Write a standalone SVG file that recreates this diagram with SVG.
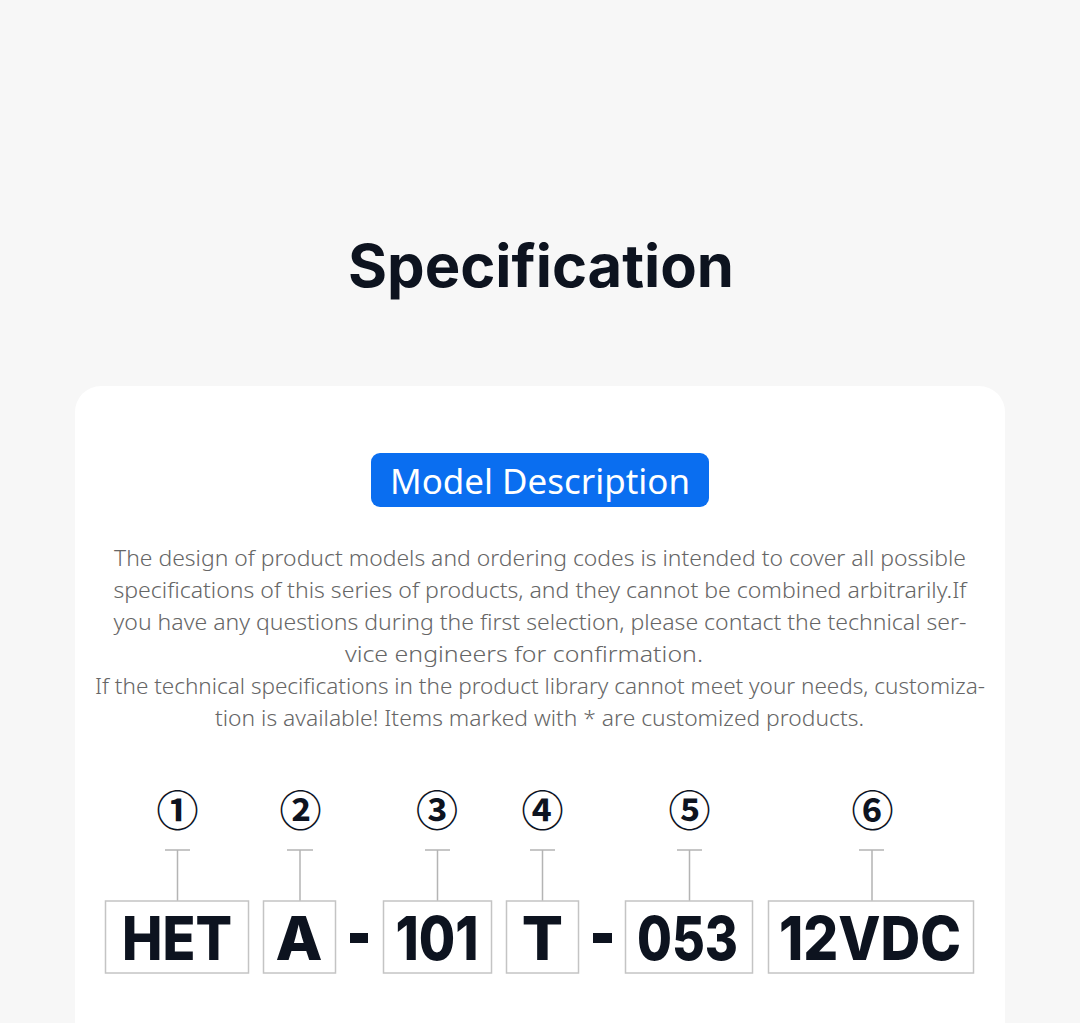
<svg xmlns="http://www.w3.org/2000/svg" width="1080" height="1023" viewBox="0 0 1080 1023">
<style>
.title{font-family:Inter,"Noto Sans","Liberation Sans",sans-serif;font-weight:700;font-size:59px;fill:#0d131f;text-anchor:middle}
.btn{font-family:"Noto Sans","Liberation Sans",sans-serif;font-size:34px;fill:#ffffff;text-anchor:middle}
.para{font-family:"Noto Sans","Open Sans","Liberation Sans",sans-serif;font-weight:300;font-size:21px;fill:#666666;text-anchor:middle}
.box{fill:#ffffff;stroke:#c4c4c4;stroke-width:1.5}
.code{font-family:Inter,"Noto Sans","Liberation Sans",sans-serif;font-weight:800;font-size:61px;fill:#0d131f;text-anchor:middle}
.num{font-family:"Noto Sans CJK SC","DejaVu Sans",sans-serif;font-weight:700;font-size:42px;fill:#0d131f;text-anchor:middle;dominant-baseline:central}
.conn{stroke:#b4b4b4;stroke-width:1.5;fill:none}
</style>
<rect x="0" y="0" width="1080" height="1023" fill="#f7f7f7"/>
<rect x="75" y="386" width="930" height="680" rx="26" fill="#ffffff"/>
<text class="title" x="541" y="287" textLength="386" lengthAdjust="spacingAndGlyphs">Specification</text>
<g id="button">
<rect x="371" y="453" width="338" height="54" rx="9" fill="#0a6ef0"/>
<text class="btn" x="540" y="494" textLength="300" lengthAdjust="spacingAndGlyphs">Model Description</text>
</g>
<g id="description">
<text class="para" x="540" y="566" textLength="852" lengthAdjust="spacingAndGlyphs">The design of product models and ordering codes is intended to cover all possible</text>
<text class="para" x="540" y="598" textLength="853" lengthAdjust="spacingAndGlyphs">specifications of this series of products, and they cannot be combined arbitrarily.If</text>
<text class="para" x="540" y="630" textLength="853" lengthAdjust="spacingAndGlyphs">you have any questions during the first selection, please contact the technical ser-</text>
<text class="para" x="524" y="662" textLength="358" lengthAdjust="spacingAndGlyphs">vice engineers for confirmation.</text>
<text class="para" x="540" y="694" textLength="890" lengthAdjust="spacingAndGlyphs">If the technical specifications in the product library cannot meet your needs, customiza-</text>
<text class="para" x="539.5" y="726" textLength="649" lengthAdjust="spacingAndGlyphs">tion is available! Items marked with * are customized products.</text>
</g>
<g id="connectors">
<path class="conn" d="M165 850H190M177.5 850V901"/>
<path class="conn" d="M287 850H313M300 850V901"/>
<path class="conn" d="M425 850H450M437.5 850V901"/>
<path class="conn" d="M530 850H555M542.5 850V901"/>
<path class="conn" d="M677 850H702M689.5 850V901"/>
<path class="conn" d="M859 850H884M872 850V901"/>
</g>
<g id="seg1">
<text class="num" x="177.5" y="807">①</text>
<rect class="box" x="105.5" y="901" width="143" height="72"/>
<text class="code" x="177" y="960" textLength="110" lengthAdjust="spacingAndGlyphs">HET</text>
</g>
<g id="seg2">
<text class="num" x="300.5" y="807">②</text>
<rect class="box" x="263.5" y="901" width="72" height="72"/>
<text class="code" x="299" y="960">A</text>
</g>
<g id="dash1"><rect x="350" y="933" width="18" height="10" fill="#0d131f"/></g>
<g id="seg3">
<text class="num" x="437" y="807">③</text>
<rect class="box" x="383.5" y="901" width="108" height="72"/>
<text class="code" x="437" y="960" textLength="83" lengthAdjust="spacingAndGlyphs">101</text>
</g>
<g id="seg4">
<text class="num" x="542.5" y="807">④</text>
<rect class="box" x="506.5" y="901" width="72" height="72"/>
<text class="code" x="542.5" y="960">T</text>
</g>
<g id="dash2"><rect x="593" y="933" width="19" height="10" fill="#0d131f"/></g>
<g id="seg5">
<text class="num" x="689.5" y="807">⑤</text>
<rect class="box" x="625.5" y="901" width="127" height="72"/>
<text class="code" x="687.5" y="960" textLength="101" lengthAdjust="spacingAndGlyphs">053</text>
</g>
<g id="seg6">
<text class="num" x="872.5" y="807">⑥</text>
<rect class="box" x="768.5" y="901" width="205" height="72"/>
<text class="code" x="870" y="960" textLength="182" lengthAdjust="spacingAndGlyphs">12VDC</text>
</g>
</svg>
